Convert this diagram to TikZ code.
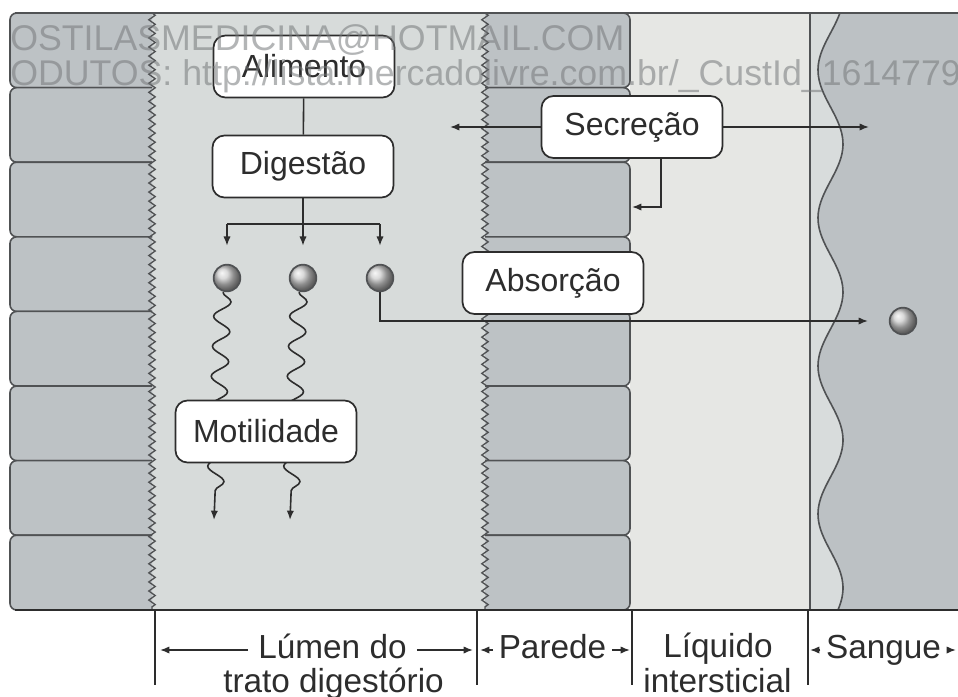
\documentclass[tikz,border=0pt]{standalone}
\usepackage{fontspec}
\setmainfont{Liberation Sans}
\usetikzlibrary{arrows.meta,decorations.pathmorphing,calc}
\definecolor{cellg}{RGB}{189,194,197}
\definecolor{lumen}{RGB}{215,219,218}
\definecolor{inter}{RGB}{230,231,228}
\definecolor{bloodl}{RGB}{216,220,220}
\definecolor{bloodd}{RGB}{188,193,196}
\definecolor{ink}{RGB}{45,45,45}
\definecolor{edge}{RGB}{80,82,84}
\definecolor{wm}{RGB}{118,121,123}
\begin{document}
\begin{tikzpicture}[x=0.75pt,y=-0.75pt,
  box/.style={draw=ink, line width=1.3pt, fill=white, rounded corners=9pt, minimum width=135.75pt, minimum height=46.5pt, inner sep=0pt, font=\fontsize{24}{28}\selectfont, text=ink},
  arr/.style={draw=ink, line width=1.2pt, -{Latex[length=7pt,width=5.5pt]}},
  con/.style={draw=ink, line width=1.2pt},
  bub/.style={circle, draw=edge, line width=1.3pt, minimum size=20pt, inner sep=0pt, shading=ball, ball color=gray!40},
  lbl/.style={font=\fontsize{25}{26}\selectfont, text=ink, inner ysep=0pt, inner xsep=7.5pt, anchor=base},
  cellln/.style={draw=edge, line width=1.2pt, fill=cellg, rounded corners=5pt},
  zz/.style={draw=edge, line width=1pt, decorate, decoration={zigzag, segment length=6.8pt, amplitude=2.4pt}},
  wavy/.style={decorate, decoration={snake, segment length=22.5pt, amplitude=6.3pt, post length=12pt}},
  wmtext/.style={anchor=base west, inner sep=0pt, text=wm, opacity=0.55, text opacity=0.55, font=\fontsize{26.8}{30}\selectfont},
]
\useasboundingbox (0,0) rectangle (958,697);
% backgrounds
\fill[lumen] (152,13) rectangle (485,610);
\fill[inter] (630,13) rectangle (810,610);
\fill[bloodl] (810,13) rectangle (958,610);
\fill[bloodd] plot[domain=13:610,samples=150,variable=\t] ({830.5-12.5*cos(2.4324*(\t-70))},\t) -- (958,610) -- (958,13) -- cycle;
% cells
\foreach \a/\b in {13/87.6, 87.6/162.2, 162.2/236.8, 236.8/311.4, 311.4/386, 386/460.6, 460.6/535.2, 535.2/610} {
  \path[cellln] (152,\a) -- (10,\a) -- (10,\b) -- (152,\b);
  \path[cellln] (485,\a) -- (630,\a) -- (630,\b) -- (485,\b);
}
\draw[zz] (152,13) -- (152,610);
\draw[zz] (485,13) -- (485,610);
\draw[edge, line width=1.2pt] (810,13) -- (810,610);
\draw[edge, line width=1.2pt] plot[domain=13:610,samples=150,variable=\t] ({830.5-12.5*cos(2.4324*(\t-70))},\t);
% frame
\draw[edge, line width=1.3pt] (15,13) -- (958,13);
\draw[ink, line width=2.2pt] (15,610) -- (958,610);

% bubbles
\node[bub] (b1) at (227,278) {};
\node[bub] (b2) at (303,278) {};
\node[bub] (b3) at (380,278) {};
\node[bub] (b4) at (903,321) {};

% coordinates
\coordinate (split) at (303,224);
\coordinate (absend) at (868,321);
\coordinate (secL) at (450,127);
\coordinate (secR) at (869,127);
\coordinate (secW) at (632,207);
\coordinate (m1) at (214,520);
\coordinate (m2) at (290,520);

% motility waves (under the box)
\draw[arr, wavy] ([xshift=-3pt]b1.south) -- (m1);
\draw[arr, wavy] ([xshift=-3pt]b2.south) -- (m2);

% boxes
\node[box] (ali) at (304,66.5) {Alimento};
\node[box] (dig) at (303,166.5) {Digestão};
\node[box] (sec) at (632,127) {Secreção};
\node[box] (abs) at (553,283) {Absorção};
\node[box] (mot) at (266,431.5) {Motilidade};

% connectors
\draw[con] (ali) -- (dig);
\draw[con] (dig.south) -- (split);
\draw[con] (b1 |- split) -- (b3 |- split);
\draw[arr, shorten >=13.5pt] (b1 |- split) -- (b1.north);
\draw[arr, shorten >=13.5pt] (split) -- (b2.north);
\draw[arr, shorten >=13.5pt] (b3 |- split) -- (b3.north);
\draw[arr] (b3.south) |- (absend);
\draw[arr] (sec.west) -- (secL);
\draw[arr] (sec.east) -- (secR);
\draw[arr] ([xshift=21.75pt]sec.south) |- (secW);

% bottom labels
\foreach \x in {155,477,632,808} \draw[ink, line width=1.2pt] (\x,610) -- (\x,685);
\coordinate (lumL) at (160,650);
\coordinate (lumR) at (473,650);
\coordinate (parL) at (480,650);
\coordinate (parR) at (630,650);
\coordinate (sanL) at (810,650);
\coordinate (sanR) at (956,650);
\node[lbl] (lum1) at (332.5,658) {Lúmen do};
\node[lbl] (lum2) at (333.5,692) {trato digestório};
\node[lbl, inner xsep=4pt] (par) at (552.5,658) {Parede};
\node[lbl] (liq1) at (718,657) {Líquido};
\node[lbl] (liq2) at (717.5,692) {intersticial};
\node[lbl, inner xsep=4pt] (san) at (883.5,658) {Sangue};
\draw[arr] (lum1.west |- lumL) -- (lumL);
\draw[arr] (lum1.east |- lumR) -- (lumR);
\draw[arr] (par.west |- parL) -- (parL);
\draw[arr] (par.east |- parR) -- (parR);
\draw[arr] (san.west |- sanL) -- (sanL);
\draw[arr] (san.east |- sanR) -- (sanR);

% watermark
\begin{scope}
\clip (0,0) rectangle (958,697);
\node[wmtext] (wm1) at (10,50) {OSTILASMEDICINA@HOTMAIL.COM};
\node[wmtext] (wm2) at (10,85) {ODUTOS: http://lista.mercadolivre.com.br/\_CustId\_1614779};
\end{scope}
\end{tikzpicture}
\end{document}
